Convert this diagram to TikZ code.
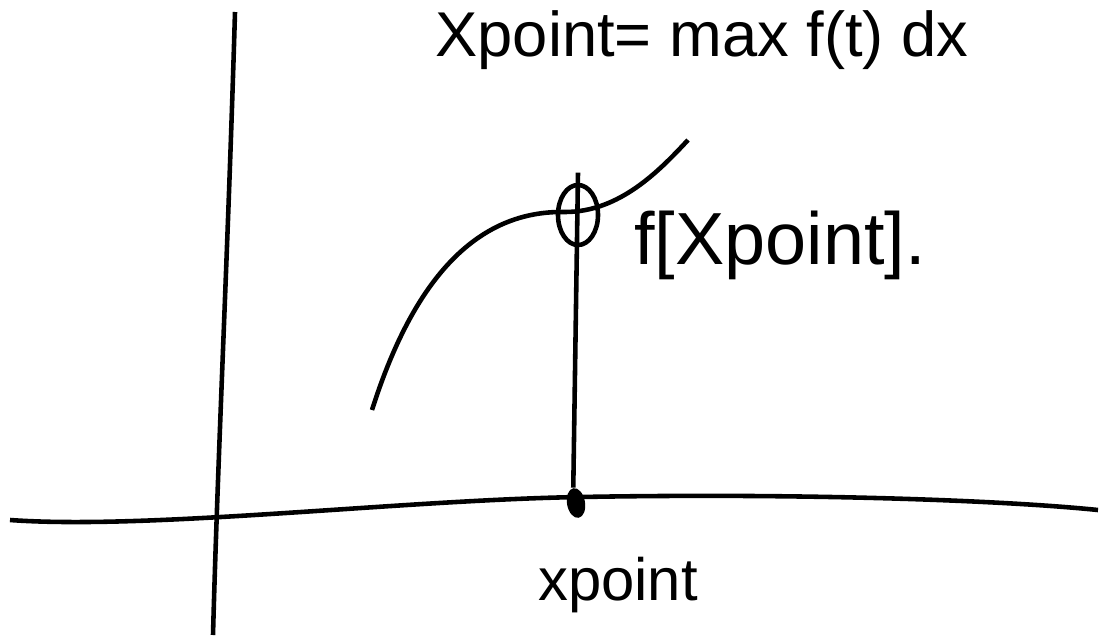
\documentclass[tikz,border=0pt]{standalone}
\usepackage{fontspec}
\setmainfont{Liberation Sans}
\usetikzlibrary{calc,positioning,shapes.geometric}
\tikzset{line width=1.3pt,line cap=round,
  every node/.style={font=\fontsize{17}{20}\selectfont},
  axisline/.style={draw=black,line width=1.3pt},
  graph/.style={draw=black,line width=1.3pt},
  ring/.style={ellipse,draw,line width=1.3pt,inner sep=0pt},
  marker/.style={ellipse,fill=black,inner sep=0pt}}

\begin{document}
\begin{tikzpicture}[x=0.01cm,y=-0.01cm]
\useasboundingbox (0,0) rectangle (1100,639);
% axes
\coordinate (ytop) at (235,12); \coordinate (ybot) at (213,635);
\coordinate (xl) at (10,520); \coordinate (xr) at (1098,510);
\draw[axisline] (ytop) .. controls (228,250) and (218,450) .. (ybot);
\draw[axisline] (xl) .. controls (150,530) and (400,500) .. (580,497)
  .. controls (800,493) and (1000,500) .. (xr);
% curve and the maximum
\coordinate (c0) at (372,410); \coordinate (c1) at (688,140);
\draw[graph] (c0) .. controls (410,290) and (470,210) .. (565,212)
  .. controls (620,212) and (660,170) .. (c1);
\node[ring,minimum width=0.4cm,minimum height=0.6cm] (top) at (578,215) {};
\node[marker,minimum width=0.18cm,minimum height=0.3cm,rotate=10] (foot) at (576,503) {};
\draw[graph] ([yshift=0.1cm]top.north) -- (foot.north);
% labels
\node[anchor=west,font=\fontsize{21}{24}\selectfont] (fval) at (622,245) {f[Xpoint].};
\node (xlab) at (618,585) {xpoint};
\node[font=\fontsize{18}{20}\selectfont] (title) at (702,40) {Xpoint= max f(t) dx};
\end{tikzpicture}
\end{document}
